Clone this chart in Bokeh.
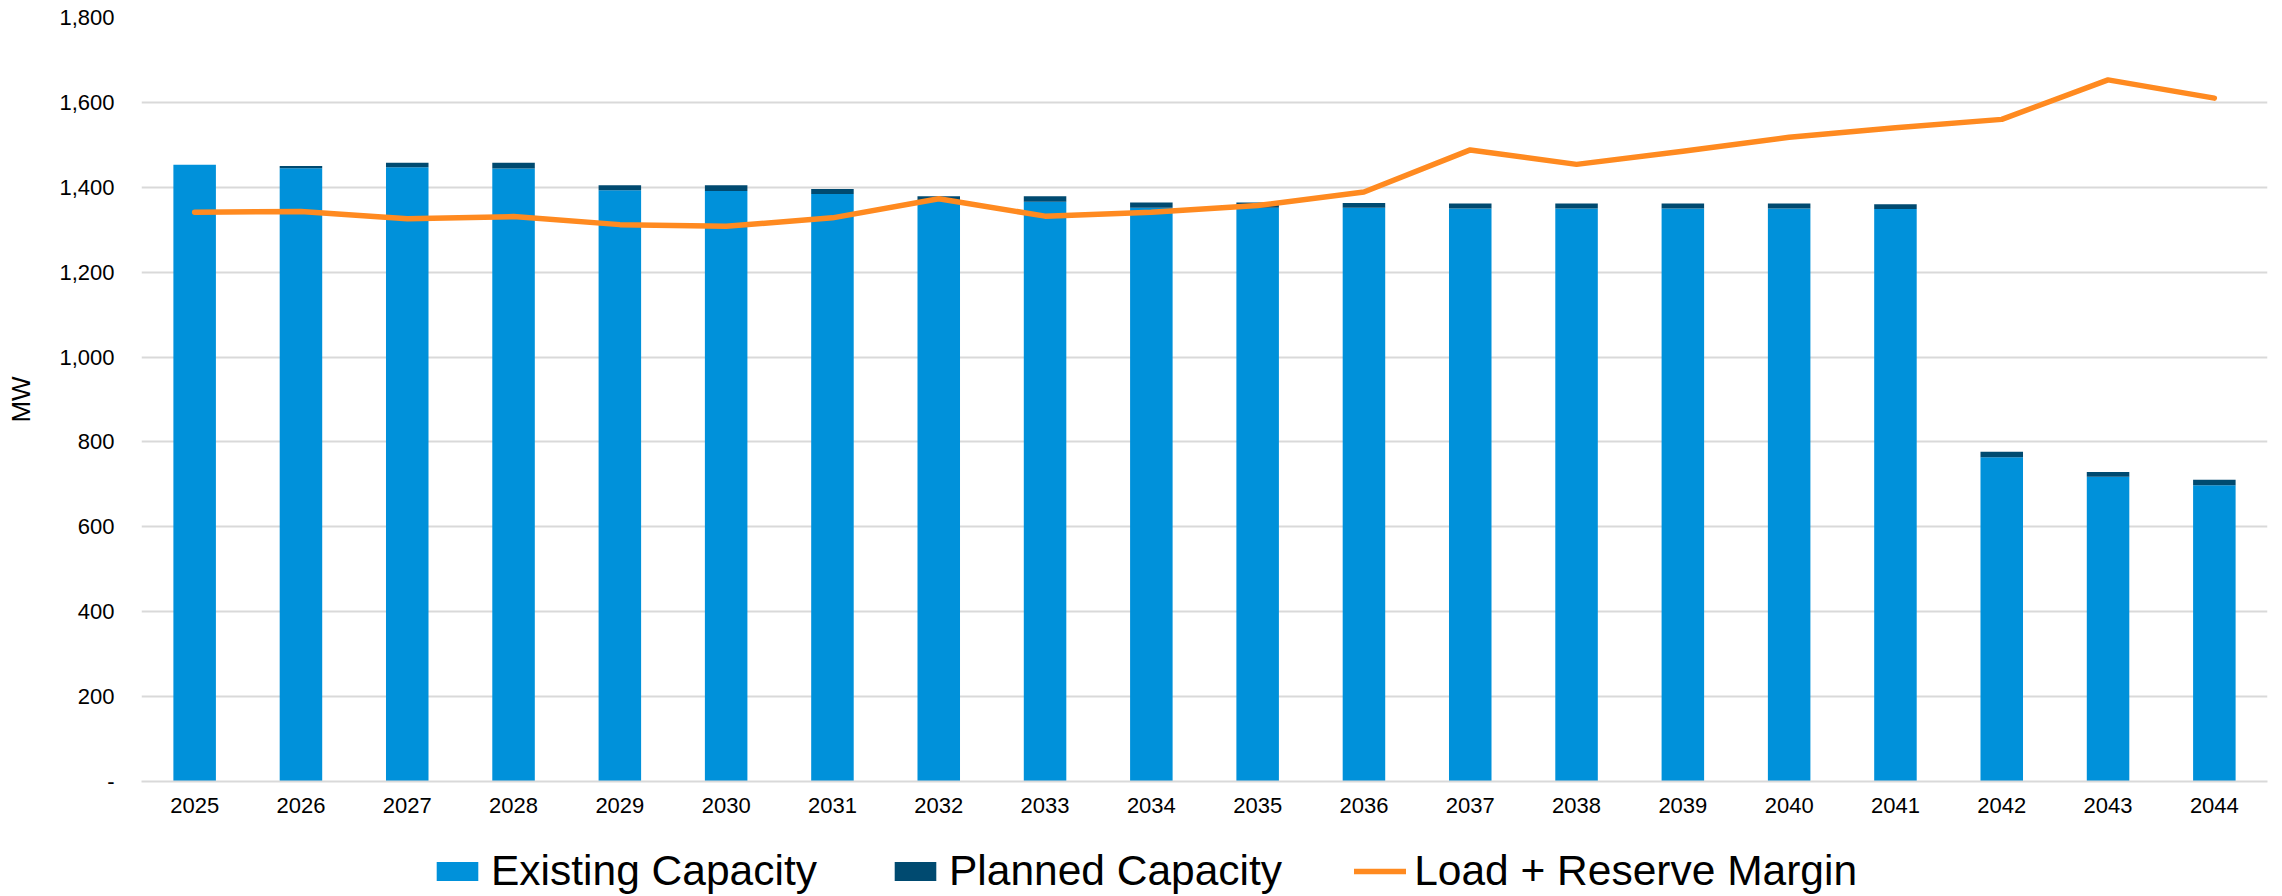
import numpy as np
from bokeh.plotting import figure
from bokeh.layouts import column
from bokeh.models import (Range1d, FactorRange, FixedTicker, NumeralTickFormatter,
                          Legend, LegendItem, ColumnDataSource)
from bokeh.embed import file_html
from bokeh.resources import INLINE

years = [str(y) for y in range(2025, 2045)]
existing = [1453, 1445, 1447, 1444, 1393, 1391, 1384, 1369, 1366, 1352,
            1352, 1352, 1350, 1350, 1350, 1350, 1349, 764, 718, 698]
planned = [0, 5, 11, 14, 12, 14, 12, 10, 13, 12,
           12, 11, 12, 12, 12, 12, 11, 13, 11, 13]
load_reserve = [1341, 1343, 1326, 1331, 1312, 1308, 1328, 1373, 1332, 1341,
                1357, 1389, 1488, 1454, 1485, 1518, 1540, 1560, 1653, 1610]
y_ticks = [0, 200, 400, 600, 800, 1000, 1200, 1400, 1600, 1800]
series_names = ["Existing Capacity", "Planned Capacity", "Load + Reserve Margin"]

C_EXIST = "#0091DA"
C_PLAN = "#004A70"
C_LOAD = "#FF8A20"
FONT = "Liberation Sans"

src = ColumnDataSource(dict(year=years, existing=existing, planned=planned,
                            load=load_reserve))

p = figure(x_range=FactorRange(*years), y_range=Range1d(0, 1800),
           width=2282, height=830, output_backend="svg", toolbar_location=None,
           min_border_left=141, min_border_right=15, min_border_top=17,
           min_border_bottom=49)
p.outline_line_color = None
p.background_fill_color = "white"

bars = p.vbar_stack(["existing", "planned"], x="year", width=0.4, source=src,
                    color=[C_EXIST, C_PLAN], line_width=0)
ln = p.line(x="year", y="load", source=src, line_color=C_LOAD, line_width=5.5,
            line_join="round", line_cap="round")

p.xgrid.grid_line_color = None
p.ygrid.grid_line_color = "#D9D9D9"
p.ygrid.grid_line_width = 2
p.ygrid.level = "underlay"

p.yaxis.ticker = FixedTicker(ticks=y_ticks)
p.yaxis.formatter = NumeralTickFormatter(format="0,0")
p.yaxis.major_label_overrides = {0: "-"}
p.yaxis.axis_line_color = None
p.yaxis.major_tick_line_color = None
p.yaxis.minor_tick_line_color = None
p.yaxis.major_tick_out = 0
p.yaxis.major_label_standoff = 27
p.yaxis.major_label_text_font = FONT
p.yaxis.major_label_text_font_size = "22px"
p.yaxis.major_label_text_color = "black"
p.yaxis.axis_label = "MW"
p.yaxis.axis_label_text_font = FONT
p.yaxis.axis_label_text_font_size = "26px"
p.yaxis.axis_label_text_font_style = "normal"
p.yaxis.axis_label_text_color = "black"
p.yaxis.axis_label_standoff = 20

p.xaxis.axis_line_color = "#D9D9D9"
p.xaxis.axis_line_width = 2
p.xaxis.major_tick_line_color = None
p.xaxis.minor_tick_line_color = None
p.xaxis.major_tick_out = 0
p.xaxis.major_label_standoff = 16
p.xaxis.major_label_text_font = FONT
p.xaxis.major_label_text_font_size = "22px"
p.xaxis.major_label_text_color = "black"

# legend strip below the chart; carrier glyphs hold no drawable data (NaN)
lf = figure(width=2282, height=66, output_backend="svg", toolbar_location=None,
            x_range=Range1d(0, 1), y_range=Range1d(0, 1),
            x_axis_type=None, y_axis_type=None, min_border=0)
lf.outline_line_color = None
lf.xgrid.visible = False
lf.ygrid.visible = False
nan = np.array([np.nan])
g1 = lf.vbar(x=nan, top=nan, width=0.5, color=C_EXIST, line_width=0)
g2 = lf.vbar(x=nan, top=nan, width=0.5, color=C_PLAN, line_width=0)
g3 = lf.line(x=nan, y=nan, line_color=C_LOAD, line_width=5.5, line_cap="round")

legend = Legend(items=[LegendItem(label=series_names[0], renderers=[g1]),
                       LegendItem(label=series_names[1], renderers=[g2]),
                       LegendItem(label=series_names[2], renderers=[g3])],
                orientation="horizontal", location=(290, 1),
                glyph_width=52, glyph_height=24, label_height=24,
                label_standoff=8, spacing=72, padding=0, margin=0,
                label_text_font=FONT, label_text_font_size="42.5px",
                label_text_color="black", border_line_color=None,
                background_fill_alpha=0)
lf.add_layout(legend, "center")

layout = column(p, lf, spacing=0)
open("out.html", "w").write(file_html(layout, INLINE))
